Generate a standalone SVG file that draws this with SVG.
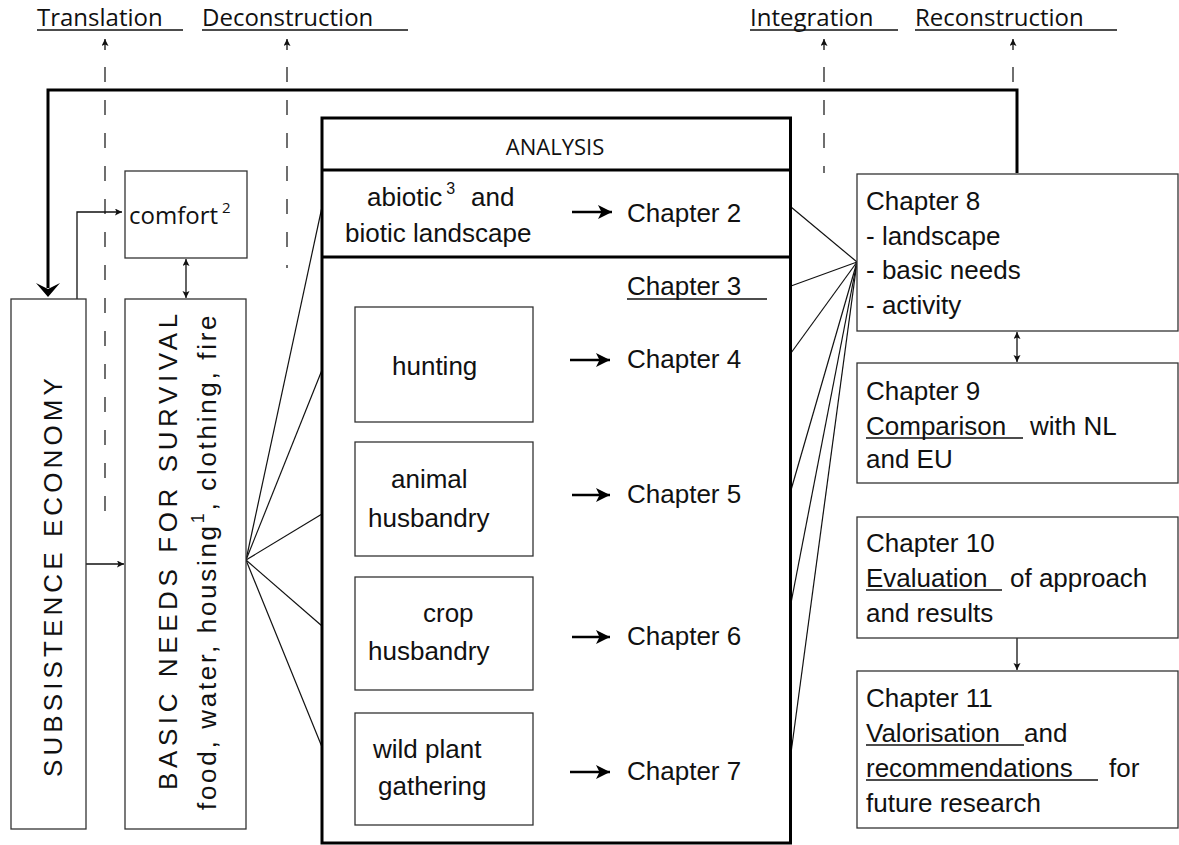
<svg xmlns="http://www.w3.org/2000/svg" width="1179" height="845" viewBox="0 0 1179 845">
<style>
.os{font-family:"Open Sans","DejaVu Sans",sans-serif;fill:#111}
.ar{font-family:"Liberation Sans",Arial,sans-serif;fill:#111;font-size:26px}
.box{fill:#fff;stroke:#333;stroke-width:1.3}
.thin{fill:none;stroke:#111;stroke-width:1.3}
.dash{fill:none;stroke:#222;stroke-width:1.3;stroke-dasharray:15 18}
.ul{stroke:#111;stroke-width:1.5}
.thick{fill:none;stroke:#000;stroke-width:3}
.fan{stroke:#111;stroke-width:1.2;fill:none}
.ch{stroke:#000;stroke-width:2.5}
</style>
<defs>
<marker id="sm" markerUnits="userSpaceOnUse" markerWidth="8" markerHeight="8" refX="7" refY="3.5" orient="auto-start-reverse" viewBox="0 0 8 8">
<path d="M0,0 L7,3.5 L0,7 L1.5,3.5 z" fill="#111"/>
</marker>
<marker id="big" markerUnits="userSpaceOnUse" markerWidth="16" markerHeight="16" refX="14" refY="7" orient="auto" viewBox="0 0 16 16">
<path d="M0,0 L14,7 L0,14 L3.5,7 z" fill="#000"/>
</marker>
</defs>
<rect width="1179" height="845" fill="#fff"/>

<g id="top-labels">
<text class="os" x="37" y="26" font-size="24">Translation</text>
<line class="ul" x1="37" y1="30" x2="183" y2="30"/>
<text class="os" x="202" y="26" font-size="24">Deconstruction</text>
<line class="ul" x1="202" y1="30" x2="408" y2="30"/>
<text class="os" x="750" y="26" font-size="24">Integration</text>
<line class="ul" x1="750" y1="30" x2="898" y2="30"/>
<text class="os" x="915" y="26" font-size="24">Reconstruction</text>
<line class="ul" x1="915" y1="30" x2="1117" y2="30"/>
</g>

<g id="connectors">
<line class="thin" x1="105" y1="50" x2="105" y2="39" marker-end="url(#sm)"/>
<line class="dash" x1="105" y1="67" x2="105" y2="512"/>
<line class="thin" x1="287" y1="50" x2="287" y2="39" marker-end="url(#sm)"/>
<line class="dash" x1="287" y1="67" x2="287" y2="268"/>
<line class="thin" x1="824" y1="50" x2="824" y2="39" marker-end="url(#sm)"/>
<line class="dash" x1="824" y1="67" x2="824" y2="173"/>
<line class="thin" x1="1013" y1="50" x2="1013" y2="39" marker-end="url(#sm)"/>
<line class="dash" x1="1013" y1="67" x2="1013" y2="90"/>
<polyline class="thick" points="1017,173 1017,90 48,90 48,288"/>
<path d="M48,297 L36,283 L48,289 L60,283 z" fill="#000"/>
<polyline class="thin" points="77,299 77,212 122,212" marker-end="url(#sm)"/>
<line class="thin" x1="186" y1="259" x2="186" y2="298" marker-start="url(#sm)" marker-end="url(#sm)"/>
<line class="thin" x1="86" y1="564" x2="124" y2="564" marker-end="url(#sm)"/>
<line class="fan" x1="246" y1="560" x2="322" y2="207"/>
<line class="fan" x1="246" y1="560" x2="322" y2="370"/>
<line class="fan" x1="246" y1="560" x2="322" y2="514"/>
<line class="fan" x1="246" y1="560" x2="322" y2="626"/>
<line class="fan" x1="246" y1="560" x2="322" y2="747"/>
<line class="fan" x1="857" y1="262" x2="791" y2="207"/>
<line class="fan" x1="857" y1="262" x2="791" y2="286"/>
<line class="fan" x1="857" y1="262" x2="791" y2="353"/>
<line class="fan" x1="857" y1="262" x2="791" y2="490"/>
<line class="fan" x1="857" y1="262" x2="791" y2="603"/>
<line class="fan" x1="857" y1="262" x2="791" y2="753"/>
<line class="ch" x1="572" y1="212" x2="612" y2="212" marker-end="url(#big)"/>
<line class="ch" x1="570" y1="360" x2="610" y2="360" marker-end="url(#big)"/>
<line class="ch" x1="572" y1="495" x2="610" y2="495" marker-end="url(#big)"/>
<line class="ch" x1="572" y1="637" x2="610" y2="637" marker-end="url(#big)"/>
<line class="ch" x1="570" y1="772" x2="610" y2="772" marker-end="url(#big)"/>
<line class="thin" x1="1017" y1="332" x2="1017" y2="362" marker-start="url(#sm)" marker-end="url(#sm)"/>
<line class="thin" x1="1017" y1="638" x2="1017" y2="670" marker-end="url(#sm)"/>
</g>

<g id="subsistence">
<rect class="box" x="11" y="299" width="75" height="530"/>
<text class="ar" transform="translate(62,777) rotate(-90)" font-size="27" letter-spacing="4.1">SUBSISTENCE ECONOMY</text>
</g>

<g id="basic-needs">
<rect class="box" x="125" y="299" width="121" height="530"/>
<text class="ar" transform="translate(177,790) rotate(-90)" font-size="27" letter-spacing="4.6">BASIC NEEDS FOR SURVIVAL</text>
<text class="ar" transform="translate(216,810) rotate(-90)" font-size="31" letter-spacing="2.7">food, water, housing<tspan font-size="18" dy="-12">1</tspan><tspan dy="12">, clothing, fire</tspan></text>
</g>

<g id="comfort">
<rect class="box" x="125" y="171" width="122" height="87"/>
<text class="os" x="129" y="224" font-size="24">comfort<tspan font-size="15" dx="4" dy="-11">2</tspan></text>
</g>

<g id="analysis">
<rect x="322" y="118" width="468.5" height="725" fill="none" stroke="#000" stroke-width="3"/>
<line x1="322" y1="170" x2="790.5" y2="170" stroke="#000" stroke-width="3"/>
<line x1="322" y1="257" x2="790.5" y2="257" stroke="#000" stroke-width="3"/>
<text class="os" x="555" y="155" font-size="22" text-anchor="middle">ANALYSIS</text>
<text class="ar" x="367" y="206">abiotic<tspan font-size="16" dx="4" dy="-12">3</tspan><tspan dx="16" dy="12">and</tspan></text>
<text class="ar" x="345" y="242">biotic landscape</text>
<text class="ar" x="627" y="222">Chapter 2</text>
<text class="ar" x="627" y="295">Chapter 3</text>
<line class="ul" x1="627" y1="299" x2="767" y2="299"/>
<text class="ar" x="627" y="368">Chapter 4</text>
<text class="ar" x="627" y="503">Chapter 5</text>
<text class="ar" x="627" y="645">Chapter 6</text>
<text class="ar" x="627" y="780">Chapter 7</text>
</g>

<g id="hunting">
<rect class="box" x="355" y="307" width="178" height="115"/>
<text class="ar" x="392" y="375">hunting</text>
</g>
<g id="animal-husbandry">
<rect class="box" x="355" y="442" width="178" height="114"/>
<text class="ar" x="391" y="488">animal</text>
<text class="ar" x="368" y="527">husbandry</text>
</g>
<g id="crop-husbandry">
<rect class="box" x="355" y="577" width="178" height="113"/>
<text class="ar" x="423" y="622">crop</text>
<text class="ar" x="368" y="660">husbandry</text>
</g>
<g id="wild-plant">
<rect class="box" x="355" y="713" width="178" height="112"/>
<text class="ar" x="373" y="758">wild plant</text>
<text class="ar" x="378" y="795">gathering</text>
</g>

<g id="chapter8">
<rect class="box" x="857" y="174" width="321" height="157"/>
<text class="ar" x="866" y="210">Chapter 8</text>
<text class="ar" x="866" y="245">- landscape</text>
<text class="ar" x="866" y="279">- basic needs</text>
<text class="ar" x="866" y="314">- activity</text>
</g>
<g id="chapter9">
<rect class="box" x="857" y="363" width="321" height="120"/>
<text class="ar" x="866" y="400">Chapter 9</text>
<text class="ar" x="866" y="435">Comparison<tspan x="1030">with NL</tspan></text>
<line class="ul" x1="866" y1="438" x2="1023" y2="438"/>
<text class="ar" x="866" y="468">and EU</text>
</g>
<g id="chapter10">
<rect class="box" x="857" y="517" width="321" height="121"/>
<text class="ar" x="866" y="552">Chapter 10</text>
<text class="ar" x="866" y="587">Evaluation<tspan x="1010">of approach</tspan></text>
<line class="ul" x1="866" y1="590" x2="1002" y2="590"/>
<text class="ar" x="866" y="622">and results</text>
</g>
<g id="chapter11">
<rect class="box" x="857" y="671" width="321" height="157"/>
<text class="ar" x="866" y="707">Chapter 11</text>
<text class="ar" x="866" y="742">Valorisation<tspan x="1024">and</tspan></text>
<line class="ul" x1="866" y1="745" x2="1024" y2="745"/>
<text class="ar" x="866" y="777">recommendations<tspan x="1109">for</tspan></text>
<line class="ul" x1="866" y1="780" x2="1098" y2="780"/>
<text class="ar" x="866" y="812">future research</text>
</g>
</svg>
